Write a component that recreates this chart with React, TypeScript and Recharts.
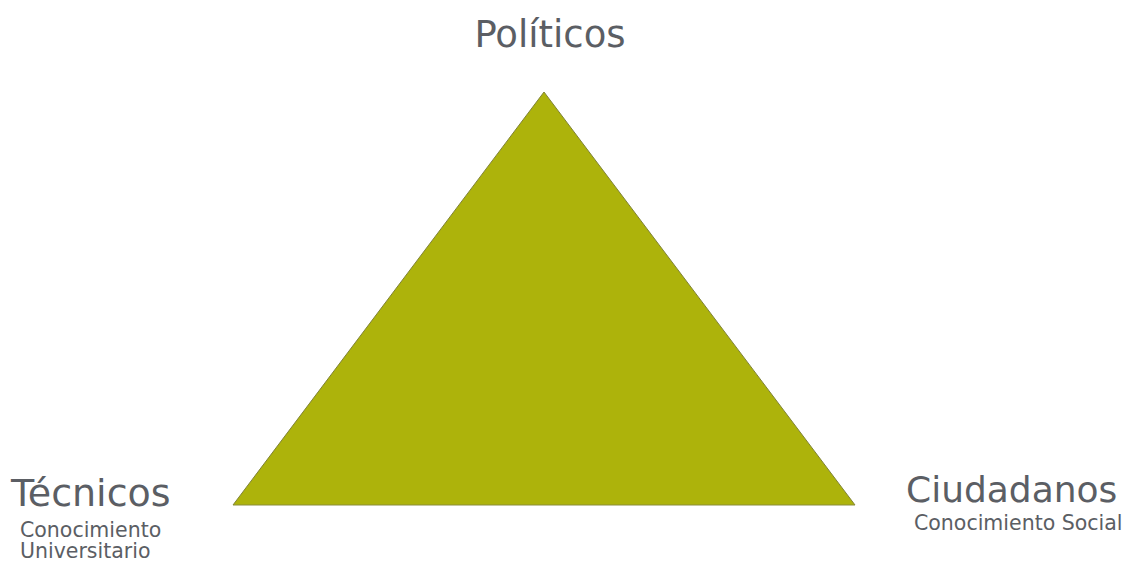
import React from "react";
import { ComposedChart, Area, Line, Scatter, XAxis, YAxis } from "recharts";

// Triangle vertices (normalised positions)
const vertexNames = ["Técnicos", "Políticos", "Ciudadanos"];
const vertexX = [0, 0.5, 1];
const vertexY = [0, 1, 0];
const subtitles: string[][] = [["Conocimiento", "Universitario"], [], ["Conocimiento Social"]];

const triangleData = vertexNames.map((name, i) => ({
  name,
  x: vertexX[i],
  y: vertexY[i],
  subs: subtitles[i],
}));
const baseData = [
  { x: vertexX[0], y: vertexY[0] },
  { x: vertexX[2], y: vertexY[2] },
];

const TEXT = "#5b5e64";
const FONT = "'DejaVu Sans', Verdana, sans-serif";

const labelLayout: Record<string, { dx: number; dy: number; anchor: string; size: number; sdx: number; sdy: number[] }> = {
  "Políticos": { dx: 6, dy: -45, anchor: "middle", size: 37, sdx: 0, sdy: [] },
  "Técnicos": { dx: -222, dy: 1, anchor: "start", size: 38, sdx: -213, sdy: [32, 53] },
  "Ciudadanos": { dx: 51, dy: -3, anchor: "start", size: 36, sdx: 59, sdy: [25] },
};

const VertexLabel = (props: any) => {
  const { cx, cy, payload } = props;
  const l = labelLayout[payload.name];
  if (!l) return null;
  return (
    <g>
      <text x={cx + l.dx} y={cy + l.dy} textAnchor={l.anchor as any} fontSize={l.size} fill={TEXT} fontFamily={FONT}>
        {payload.name}
      </text>
      {payload.subs.map((s: string, j: number) => (
        <text key={j} x={cx + l.sdx} y={cy + l.sdy[j]} textAnchor="start" fontSize={20.5} fill={TEXT} fontFamily={FONT}>
          {s}
        </text>
      ))}
    </g>
  );
};

export default function App() {
  return (
    <div style={{ position: "absolute", left: 0, top: 0, width: 1125, height: 563, background: "#fff" }}>
      <ComposedChart
        width={1125}
        height={563}
        data={triangleData}
        margin={{ top: 92, right: 270, bottom: 58, left: 233 }}
      >
        <XAxis type="number" dataKey="x" domain={[0, 1]} hide />
        <YAxis type="number" domain={[0, 1]} hide />
        <Area
          type="linear"
          dataKey="y"
          fill="#adb30b"
          fillOpacity={1}
          stroke="#7f8236"
          strokeWidth={1}
          isAnimationActive={false}
          dot={false}
          activeDot={false}
        />
        <Line
          data={baseData}
          type="linear"
          dataKey="y"
          stroke="#8a8d3a"
          strokeWidth={1}
          dot={false}
          activeDot={false}
          isAnimationActive={false}
        />
        <Scatter dataKey="y" shape={<VertexLabel />} isAnimationActive={false} />
      </ComposedChart>
    </div>
  );
}
